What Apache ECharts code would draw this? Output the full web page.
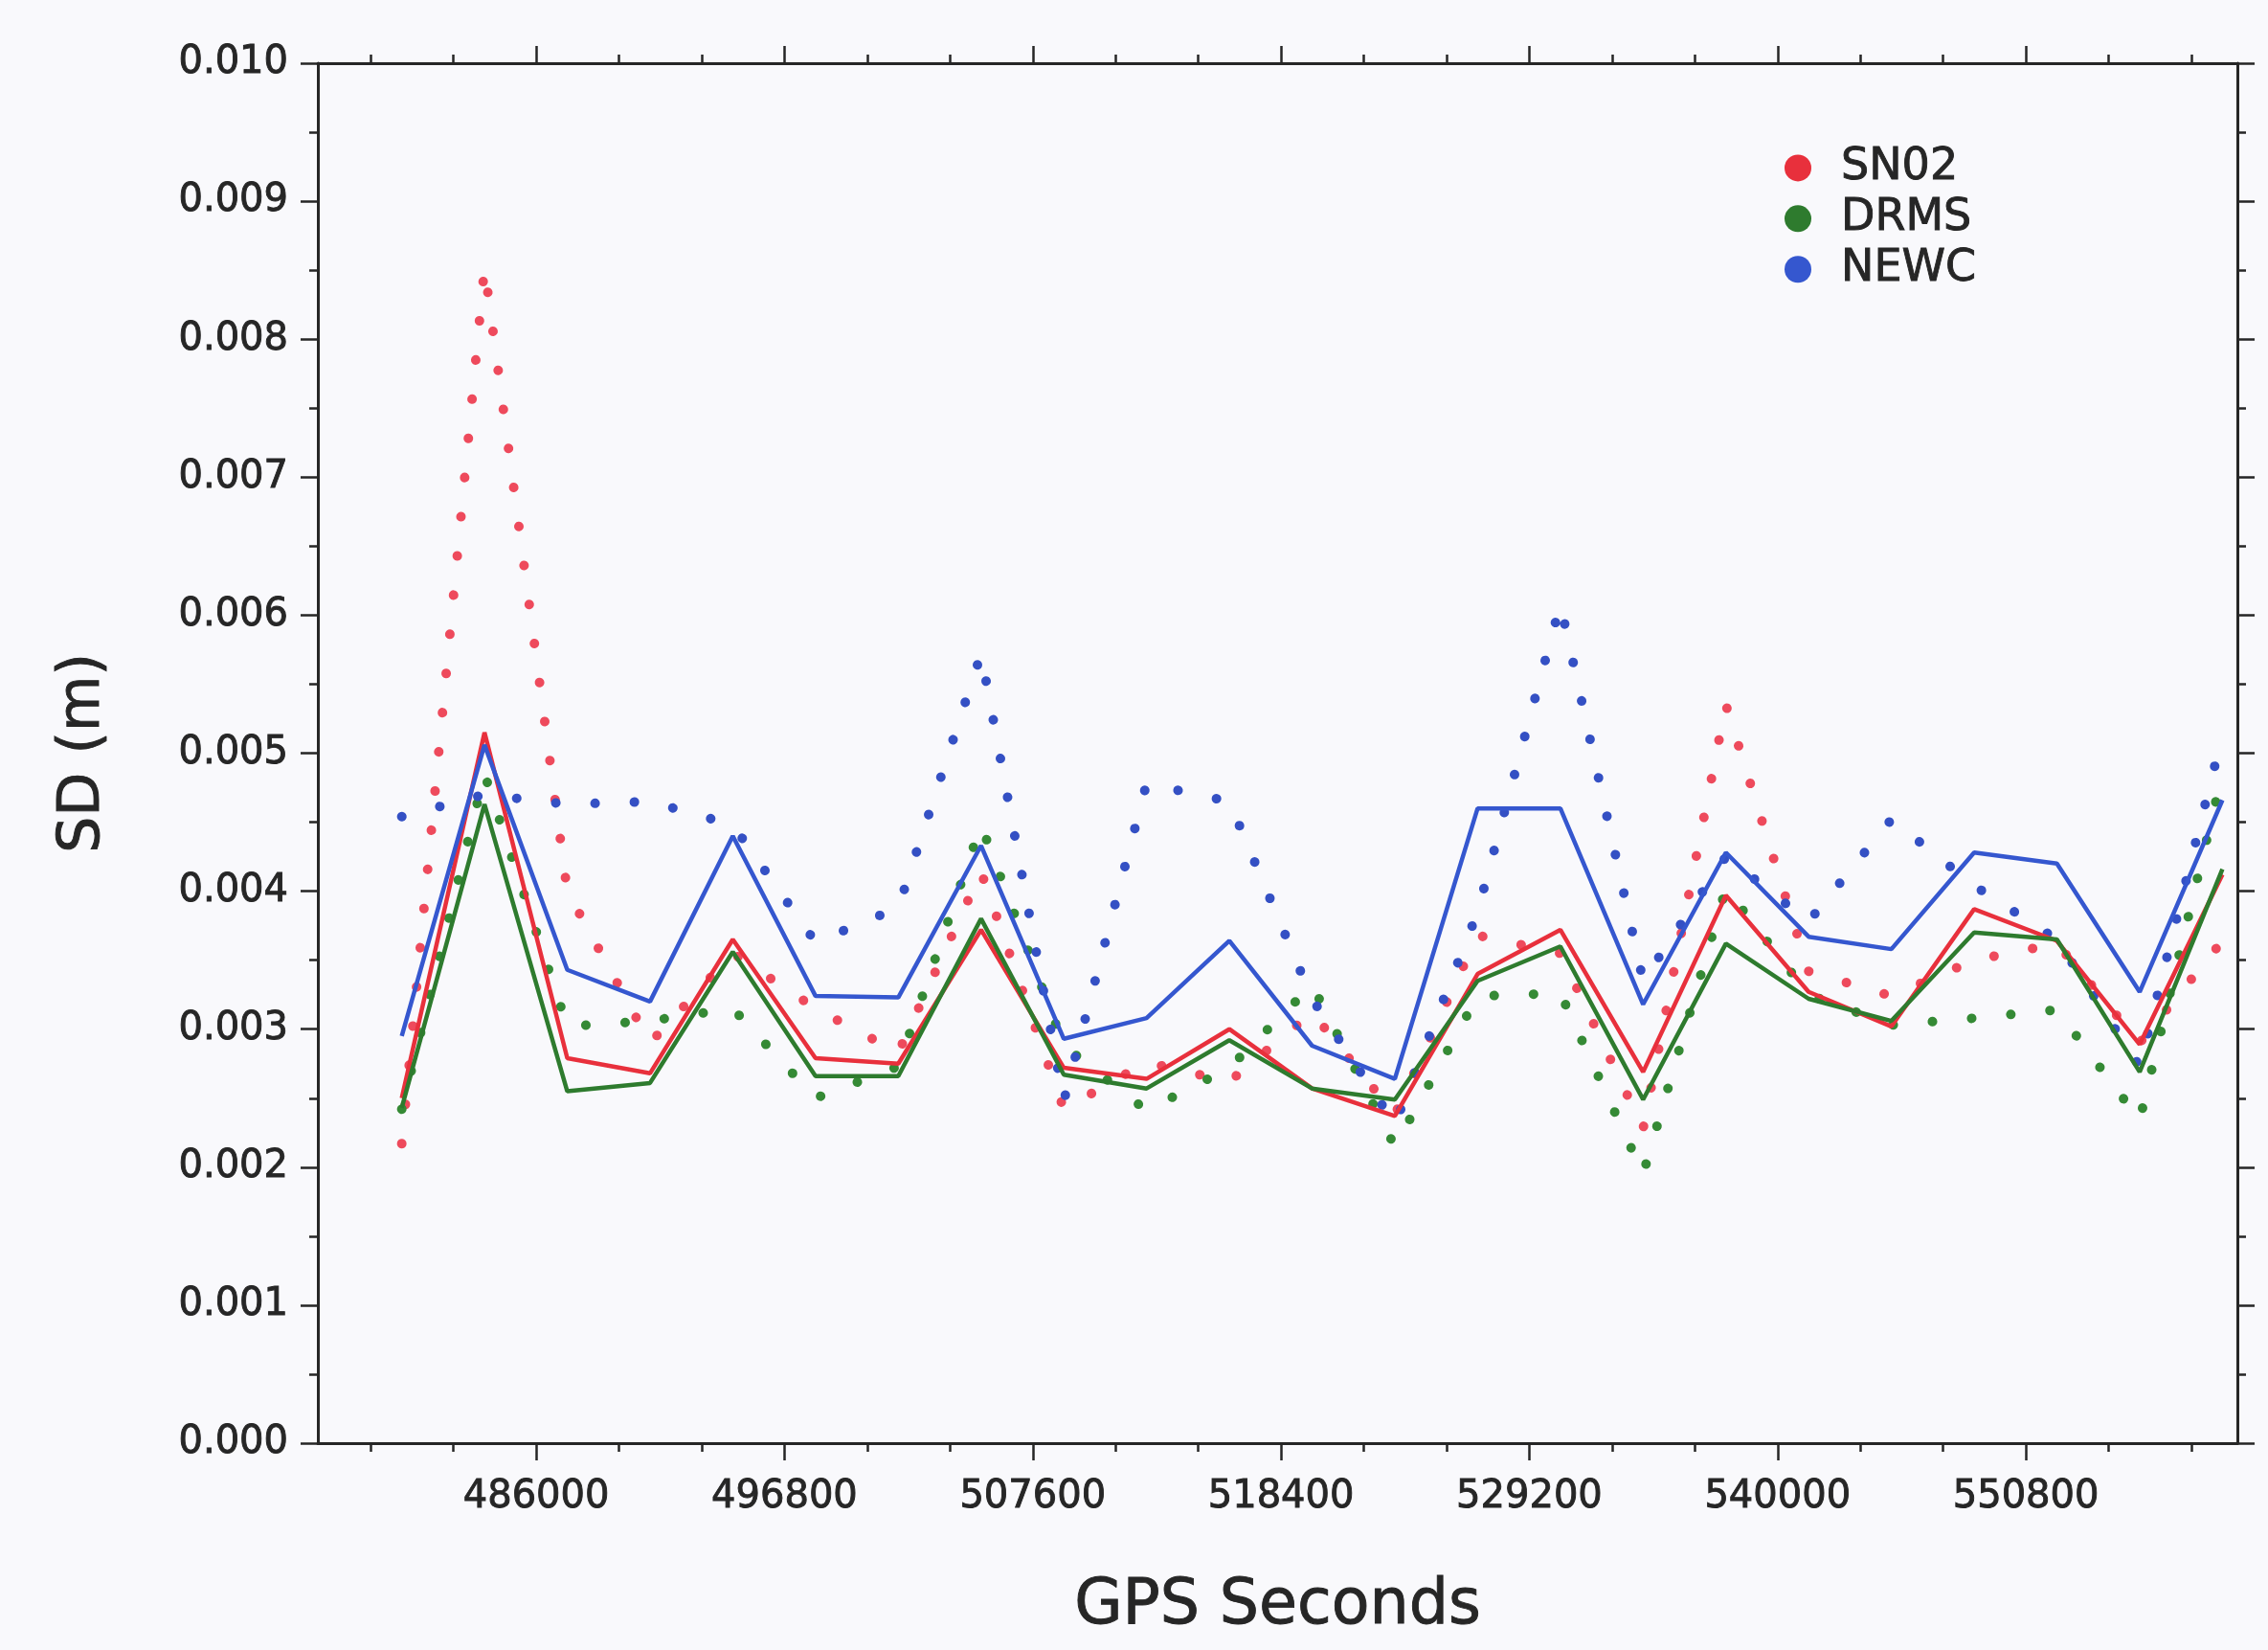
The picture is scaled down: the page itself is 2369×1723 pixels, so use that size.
<!DOCTYPE html>
<html>
<head>
<meta charset="utf-8">
<title>SD per station</title>
<script src="https://cdn.jsdelivr.net/npm/echarts@6/dist/echarts.min.js"></script>
<style>
  html, body { margin: 0; padding: 0; background: #f9f9fc; }
  #chart { width: 2369px; height: 1723px; }
</style>
</head>
<body>
<div id="chart"></div>
<script>
// Epochs (GPS seconds) shared by all series
const epochs = [480150, 483750, 487350, 490950, 494550, 498150, 501750, 505350,
  508950, 512550, 516150, 519750, 523350, 526950, 530550, 534150, 537750,
  541350, 544950, 548550, 552150, 555750, 559350];

// Hourly SD (m), solid lines
const sn02Solid = [0.00250, 0.00515, 0.00279, 0.00268, 0.00365, 0.00279, 0.00275, 0.00372,
  0.00272, 0.00264, 0.00300, 0.00257, 0.00237, 0.00340, 0.00372, 0.00269, 0.00397,
  0.00327, 0.00302, 0.00387, 0.00364, 0.00289, 0.00412];
const drmsSolid = [0.00243, 0.00463, 0.00255, 0.00261, 0.00356, 0.00266, 0.00266, 0.00380,
  0.00267, 0.00257, 0.00292, 0.00257, 0.00249, 0.00335, 0.00360, 0.00249, 0.00362,
  0.00322, 0.00306, 0.00370, 0.00365, 0.00269, 0.00416];
const newcSolid = [0.00295, 0.00506, 0.00343, 0.00320, 0.00440, 0.00324, 0.00323, 0.00433,
  0.00293, 0.00308, 0.00364, 0.00288, 0.00264, 0.00460, 0.00460, 0.00318, 0.00428,
  0.00367, 0.00358, 0.00428, 0.00420, 0.00327, 0.00466];

// SD (m), dotted lines
const sn02Dotted = [0.00217, 0.00852, 0.00400, 0.00290, 0.00355, 0.00315, 0.00283, 0.00414,
  0.00242, 0.00276, 0.00262, 0.00312, 0.00238, 0.00368, 0.00355, 0.00228, 0.00535,
  0.00342, 0.00324, 0.00350, 0.00362, 0.00290, 0.00364];
const drmsDotted = [0.00242, 0.00485, 0.00302, 0.00306, 0.00315, 0.00250, 0.00273, 0.00448,
  0.00288, 0.00241, 0.00272, 0.00332, 0.00215, 0.00324, 0.00326, 0.00195, 0.00402,
  0.00325, 0.00303, 0.00308, 0.00314, 0.00234, 0.00485];
const newcDotted = [0.00454, 0.00470, 0.00463, 0.00465, 0.00448, 0.00363, 0.00388, 0.00572,
  0.00248, 0.00478, 0.00465, 0.00322, 0.00231, 0.00385, 0.00608, 0.00335, 0.00425,
  0.00378, 0.00452, 0.00404, 0.00365, 0.00273, 0.00513];

// Axis ticks
const xMajorTicks = [486000, 496800, 507600, 518400, 529200, 540000, 550800];
const xMin = 476500, xMax = 560000;
const xMinorTicks = [];
for (let t = Math.ceil(xMin / 3600) * 3600; t <= xMax; t += 3600) xMinorTicks.push(t);

const FONT = 'DejaVu Sans';
const INK = '#262626';
const COLORS = {
  SN02: { solid: '#e8303c', dot: '#ee4a5c' },
  DRMS: { solid: '#2e7b2e', dot: '#358a35' },
  NEWC: { solid: '#3557cf', dot: '#3450c4' }
};

// Slightly heavier glyphs for all texts
const textWeight = { textBorderColor: INK, textBorderWidth: 0.9 };

const pairs = (ys) => epochs.map((t, i) => [t, ys[i]]);

function solidSeries(name, ys) {
  return {
    type: 'line', name, data: pairs(ys), showSymbol: false, z: 3,
    itemStyle: { color: COLORS[name].solid },
    lineStyle: { color: COLORS[name].solid, width: 4.5 }
  };
}
function dottedSeries(name, ys) {
  return {
    type: 'line', name, data: pairs(ys), showSymbol: false, z: 2,
    itemStyle: { color: COLORS[name].solid },
    lineStyle: { color: COLORS[name].dot, width: 10, type: [0.1, 41], cap: 'round' }
  };
}

const axisLine = { show: true, lineStyle: { color: INK, width: 3 } };
const tickStyle = { color: INK, width: 2.5 };
const xBase = { type: 'value', min: xMin, max: xMax, splitLine: { show: false } };

const option = {
  animation: false,
  backgroundColor: '#f9f9fc',
  grid: { left: 332, right: 32, top: 66, bottom: 216 },
  legend: {
    orient: 'vertical', left: 1859, top: 147,
    icon: 'circle', itemWidth: 28, itemHeight: 28, itemGap: 6,
    data: ['SN02', 'DRMS', 'NEWC'],
    textStyle: Object.assign({ fontFamily: FONT, fontSize: 46, lineHeight: 46, color: INK,
      padding: [0, 0, 0, 26] }, textWeight)
  },
  xAxis: [
    Object.assign({}, xBase, {
      position: 'bottom', axisLine,
      axisTick: { show: true, customValues: xMajorTicks, length: 18, lineStyle: tickStyle },
      axisLabel: Object.assign({ customValues: xMajorTicks, formatter: (v) => String(v), margin: 37,
        fontFamily: FONT, fontSize: 40, color: INK }, textWeight),
      name: 'GPS Seconds', nameLocation: 'middle', nameGap: 139,
      nameTextStyle: Object.assign({ fontFamily: FONT, fontSize: 65, color: INK }, textWeight)
    }),
    Object.assign({}, xBase, {
      position: 'bottom', axisLine: { show: false },
      axisTick: { show: true, customValues: xMinorTicks, length: 9, lineStyle: tickStyle },
      axisLabel: { show: false }
    }),
    Object.assign({}, xBase, {
      position: 'top', axisLine,
      axisTick: { show: true, customValues: xMajorTicks, length: 18, lineStyle: tickStyle },
      axisLabel: { show: false }
    }),
    Object.assign({}, xBase, {
      position: 'top', axisLine: { show: false },
      axisTick: { show: true, customValues: xMinorTicks, length: 9, lineStyle: tickStyle },
      axisLabel: { show: false }
    })
  ],
  yAxis: [
    {
      type: 'value', position: 'left', min: 0, max: 0.010, interval: 0.001,
      axisLine, splitLine: { show: false },
      axisTick: { show: true, length: 18, lineStyle: tickStyle },
      minorTick: { show: true, splitNumber: 2, length: 9, lineStyle: tickStyle },
      axisLabel: Object.assign({ formatter: (v) => v.toFixed(3), margin: 31, fontFamily: FONT,
        fontSize: 40, color: INK }, textWeight),
      name: 'SD (m)', nameLocation: 'middle', nameGap: 215, nameRotate: 90,
      nameTextStyle: Object.assign({ fontFamily: FONT, fontSize: 60, color: INK }, textWeight)
    },
    {
      type: 'value', position: 'right', min: 0, max: 0.010, interval: 0.001,
      axisLine, splitLine: { show: false },
      axisTick: { show: true, length: 18, lineStyle: tickStyle },
      minorTick: { show: true, splitNumber: 2, length: 9, lineStyle: tickStyle },
      axisLabel: { show: false }
    }
  ],
  series: [
    solidSeries('SN02', sn02Solid),
    solidSeries('DRMS', drmsSolid),
    solidSeries('NEWC', newcSolid),
    dottedSeries('SN02', sn02Dotted),
    dottedSeries('DRMS', drmsDotted),
    dottedSeries('NEWC', newcDotted)
  ]
};

const chart = echarts.init(document.getElementById('chart'), null, { renderer: 'canvas' });
chart.setOption(option);
</script>
</body>
</html>
